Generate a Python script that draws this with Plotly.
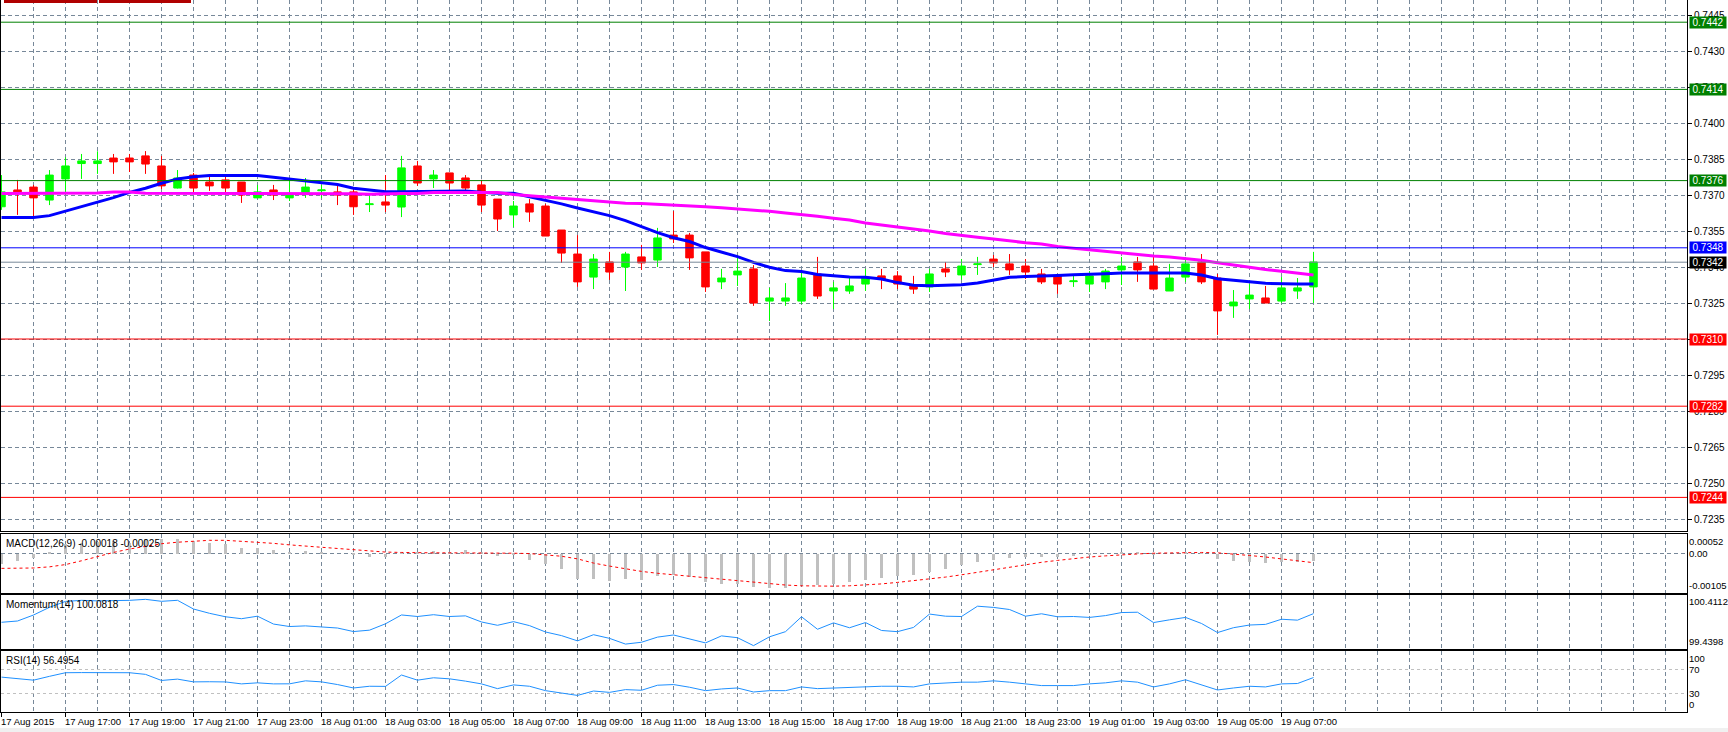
import plotly.graph_objects as go

# ---------------- data ----------------
bar_index = list(range(83))

open_ = [0.73651, 0.73721, 0.73733, 0.73679, 0.73767, 0.73831, 0.73831, 0.73854, 0.73854, 0.73863,
         0.73821, 0.73729, 0.73783, 0.73754, 0.73763, 0.73754, 0.73688, 0.73721, 0.73688, 0.73708,
         0.73718, 0.73713, 0.73713, 0.73660, 0.73671, 0.73650, 0.73821, 0.73767, 0.73792, 0.73771,
         0.73742, 0.73683, 0.73617, 0.73663, 0.73654, 0.73554, 0.73454, 0.73358, 0.73421, 0.73400,
         0.73442, 0.73429, 0.73533, 0.73533, 0.73463, 0.73338, 0.73367, 0.73392, 0.73258, 0.73258,
         0.73258, 0.73371, 0.73300, 0.73300, 0.73329, 0.73363, 0.73363, 0.73325, 0.73317, 0.73392,
         0.73367, 0.73410, 0.73433, 0.73413, 0.73404, 0.73371, 0.73363, 0.73339, 0.73329, 0.73338,
         0.73388, 0.73421, 0.73404, 0.73300, 0.73358, 0.73421, 0.73354, 0.73238, 0.73267, 0.73271,
         0.73258, 0.73300, 0.73317]
high = [0.73783, 0.73763, 0.73742, 0.73804, 0.73857, 0.73871, 0.73882, 0.73871, 0.73871, 0.73883,
        0.73863, 0.73804, 0.73792, 0.73775, 0.73775, 0.73754, 0.73742, 0.73742, 0.73763, 0.73771,
        0.73742, 0.73738, 0.73733, 0.73704, 0.73783, 0.73863, 0.73842, 0.73804, 0.73792, 0.73783,
        0.73763, 0.73683, 0.73675, 0.73683, 0.73663, 0.73554, 0.73533, 0.73454, 0.73463, 0.73463,
        0.73492, 0.73563, 0.73633, 0.73542, 0.73463, 0.73392, 0.73442, 0.73408, 0.73313, 0.73333,
        0.73375, 0.73442, 0.73338, 0.73354, 0.73392, 0.73392, 0.73383, 0.73363, 0.73392, 0.73421,
        0.73433, 0.73442, 0.73450, 0.73454, 0.73433, 0.73392, 0.73371, 0.73363, 0.73383, 0.73392,
        0.73442, 0.73442, 0.73442, 0.73413, 0.73442, 0.73454, 0.73371, 0.73304, 0.73329, 0.73321,
        0.73358, 0.73354, 0.73463]
low = [0.73638, 0.73617, 0.73608, 0.73658, 0.73700, 0.73767, 0.73788, 0.73788, 0.73796, 0.73788,
       0.73725, 0.73727, 0.73708, 0.73717, 0.73700, 0.73667, 0.73688, 0.73679, 0.73675, 0.73688,
       0.73688, 0.73658, 0.73617, 0.73629, 0.73629, 0.73608, 0.73738, 0.73729, 0.73717, 0.73717,
       0.73629, 0.73550, 0.73567, 0.73588, 0.73529, 0.73417, 0.73317, 0.73308, 0.73346, 0.73300,
       0.73388, 0.73400, 0.73500, 0.73388, 0.73296, 0.73308, 0.73321, 0.73238, 0.73175, 0.73238,
       0.73246, 0.73267, 0.73225, 0.73288, 0.73300, 0.73308, 0.73308, 0.73288, 0.73296, 0.73358,
       0.73346, 0.73367, 0.73400, 0.73367, 0.73350, 0.73329, 0.73288, 0.73317, 0.73296, 0.73308,
       0.73325, 0.73338, 0.73308, 0.73300, 0.73338, 0.73329, 0.73117, 0.73188, 0.73225, 0.73250,
       0.73250, 0.73267, 0.73250]
close = [0.73713, 0.73710, 0.73688, 0.73783, 0.73821, 0.73842, 0.73842, 0.73838, 0.73838, 0.73829,
         0.73738, 0.73771, 0.73729, 0.73738, 0.73729, 0.73700, 0.73713, 0.73700, 0.73704, 0.73733,
         0.73721, 0.73700, 0.73651, 0.73663, 0.73658, 0.73813, 0.73750, 0.73783, 0.73750, 0.73729,
         0.73658, 0.73600, 0.73654, 0.73629, 0.73529, 0.73458, 0.73338, 0.73433, 0.73379, 0.73454,
         0.73417, 0.73521, 0.73517, 0.73438, 0.73317, 0.73354, 0.73383, 0.73250, 0.73271, 0.73271,
         0.73354, 0.73279, 0.73313, 0.73321, 0.73354, 0.73350, 0.73329, 0.73308, 0.73371, 0.73379,
         0.73404, 0.73413, 0.73417, 0.73388, 0.73379, 0.73338, 0.73329, 0.73342, 0.73363, 0.73383,
         0.73404, 0.73388, 0.73308, 0.73354, 0.73413, 0.73338, 0.73217, 0.73254, 0.73283, 0.73250,
         0.73313, 0.73313, 0.73421]

ma_fast = [0.73606, 0.73606, 0.73606, 0.73614, 0.73633, 0.73649, 0.73668, 0.73689, 0.73711, 0.73728,
           0.73749, 0.73767, 0.73776, 0.73781, 0.73781, 0.73781, 0.73781, 0.73774, 0.73767, 0.73758,
           0.73751, 0.73744, 0.73728, 0.73721, 0.73714, 0.73714, 0.73714, 0.73715, 0.73717, 0.73717,
           0.73711, 0.73707, 0.73707, 0.73693, 0.73679, 0.73663, 0.73646, 0.73631, 0.73614, 0.73593,
           0.73568, 0.73543, 0.73522, 0.73506, 0.73481, 0.73463, 0.73443, 0.73419, 0.73399, 0.73385,
           0.73381, 0.73369, 0.73364, 0.73358, 0.73357, 0.73350, 0.73335, 0.73324, 0.73322, 0.73325,
           0.73326, 0.73333, 0.73346, 0.73357, 0.73360, 0.73361, 0.73365, 0.73368, 0.73369, 0.73372,
           0.73375, 0.73376, 0.73376, 0.73375, 0.73375, 0.73367, 0.73351, 0.73346, 0.73339, 0.73332,
           0.73329, 0.73329, 0.73329]
ma_slow = [0.73706, 0.73706, 0.73706, 0.73706, 0.73706, 0.73708, 0.73708, 0.73712, 0.73712, 0.73707,
           0.73707, 0.73707, 0.73707, 0.73707, 0.73707, 0.73707, 0.73707, 0.73707, 0.73707, 0.73707,
           0.73707, 0.73705, 0.73705, 0.73703, 0.73706, 0.73706, 0.73706, 0.73710, 0.73710, 0.73710,
           0.73710, 0.73710, 0.73702, 0.73697, 0.73690, 0.73685, 0.73680, 0.73676, 0.73672, 0.73666,
           0.73665, 0.73662, 0.73660, 0.73657, 0.73651, 0.73647, 0.73643, 0.73637, 0.73632, 0.73625,
           0.73619, 0.73611, 0.73603, 0.73596, 0.73583, 0.73575, 0.73568, 0.73560, 0.73550, 0.73540,
           0.73531, 0.73524, 0.73517, 0.73508, 0.73501, 0.73496, 0.73485, 0.73478, 0.73471, 0.73464,
           0.73457, 0.73451, 0.73446, 0.73442, 0.73436, 0.73428, 0.73418, 0.73408, 0.73399, 0.73390,
           0.73382, 0.73374, 0.73367]

macd_main = [-0.00028, -0.00019, -0.00010, 0.00005, 0.00025, 0.00029, 0.00031, 0.00033, 0.00029, 0.00038,
             0.00040, 0.00038, 0.00033, 0.00027, 0.00025, 0.00016, 0.00014, 0.00009, 0.00004, 0.00006,
             0.00003, 0.00000, -0.00002, -0.00009, -0.00008, 0.00003, 0.00004, 0.00007, 0.00004, 0.00009,
             0.00003, -0.00006, -0.00002, -0.00017, -0.00028, -0.00041, -0.00066, -0.00068, -0.00072, -0.00068,
             -0.00070, -0.00060, -0.00055, -0.00062, -0.00075, -0.00079, -0.00080, -0.00088, -0.00090, -0.00090,
             -0.00083, -0.00083, -0.00079, -0.00075, -0.00069, -0.00064, -0.00060, -0.00057, -0.00048, -0.00040,
             -0.00031, -0.00023, -0.00016, -0.00012, -0.00009, -0.00009, -0.00008, -0.00006, -0.00003, 0.00000,
             0.00004, 0.00005, -0.00001, 0.00000, 0.00005, 0.00001, -0.00014, -0.00020, -0.00022, -0.00025,
             -0.00022, -0.00021, -0.00018]
macd_signal = [-0.00040, -0.00040, -0.00039, -0.00036, -0.00030, -0.00020, -0.00008, 0.00002, 0.00011, 0.00018,
               0.00025, 0.00029, 0.00032, 0.00034, 0.00034, 0.00032, 0.00029, 0.00026, 0.00022, 0.00019,
               0.00016, 0.00012, 0.00009, 0.00006, 0.00003, 0.00002, 0.00001, 0.00001, 0.00001, 0.00001,
               0.00001, 0.00001, 0.00000, -0.00001, -0.00004, -0.00008, -0.00015, -0.00026, -0.00034, -0.00041,
               -0.00048, -0.00053, -0.00057, -0.00061, -0.00065, -0.00069, -0.00073, -0.00077, -0.00081, -0.00084,
               -0.00086, -0.00087, -0.00087, -0.00086, -0.00084, -0.00081, -0.00077, -0.00073, -0.00068, -0.00063,
               -0.00057, -0.00050, -0.00043, -0.00036, -0.00030, -0.00024, -0.00019, -0.00014, -0.00010, -0.00007,
               -0.00004, -0.00002, 0.00000, 0.00001, 0.00002, 0.00002, 0.00001, -0.00002, -0.00006, -0.00010,
               -0.00015, -0.00020, -0.00025]

momentum = [99.920, 99.944, 100.056, 100.200, 100.310, 100.330, 100.320, 100.320, 100.330, 100.349,
            100.312, 100.331, 100.168, 100.088, 100.023, 99.987, 100.034, 99.887, 99.841, 99.853,
            99.836, 99.813, 99.747, 99.773, 99.892, 100.057, 100.028, 100.062, 100.028, 100.040,
            99.926, 99.864, 99.932, 99.858, 99.739, 99.671, 99.573, 99.688, 99.620, 99.513,
            99.547, 99.643, 99.683, 99.603, 99.535, 99.666, 99.632, 99.484, 99.649, 99.745,
            100.023, 99.790, 99.909, 99.818, 99.915, 99.767, 99.745, 99.824, 100.074, 100.034,
            100.028, 100.221, 100.198, 100.159, 100.034, 100.079, 100.023, 100.028, 100.011, 100.045,
            100.102, 100.108, 99.915, 99.966, 100.011, 99.898, 99.728, 99.819, 99.869, 99.881,
            99.977, 99.960, 100.082]

rsi = [57.2, 55.0, 52.2, 58.5, 64.4, 64.6, 64.4, 64.3, 64.4, 61.7,
       51.7, 53.9, 49.4, 49.6, 49.3, 46.1, 47.8, 46.1, 46.2, 51.1,
       49.4, 45.0, 39.4, 42.2, 42.0, 60.6, 52.2, 56.1, 54.4, 50.6,
       46.1, 38.3, 44.4, 42.2, 35.0, 31.1, 27.2, 34.4, 32.2, 36.7,
       35.6, 43.9, 45.0, 40.6, 35.0, 37.8, 39.4, 32.8, 35.0, 35.0,
       41.1, 38.3, 39.4, 40.6, 42.2, 42.2, 42.2, 41.1, 46.1, 47.8,
       48.9, 48.9, 51.1, 48.9, 46.1, 43.3, 43.3, 43.3, 46.1, 47.8,
       51.1, 48.9, 41.1, 46.1, 52.8, 45.0, 36.1, 39.4, 42.2, 41.1,
       46.1, 46.7, 56.5]

levels_green = [0.7442, 0.7414, 0.7376]
levels_blue = [0.7348]
levels_price = [0.7342]
levels_red = [0.7310, 0.7282, 0.7244]

price_ticks = [0.7445, 0.7430, 0.7415, 0.7400, 0.7385, 0.7370, 0.7355, 0.7340,
               0.7325, 0.7310, 0.7295, 0.7280, 0.7265, 0.7250, 0.7235]

time_label_idx = [0, 4, 8, 12, 16, 20, 24, 28, 32, 36, 40, 44, 48, 52, 56, 60, 64, 68, 72, 76, 80]
time_labels = ["17 Aug 2015", "17 Aug 17:00", "17 Aug 19:00", "17 Aug 21:00", "17 Aug 23:00",
               "18 Aug 01:00", "18 Aug 03:00", "18 Aug 05:00", "18 Aug 07:00", "18 Aug 09:00",
               "18 Aug 11:00", "18 Aug 13:00", "18 Aug 15:00", "18 Aug 17:00", "18 Aug 19:00",
               "18 Aug 21:00", "18 Aug 23:00", "19 Aug 01:00", "19 Aug 03:00", "19 Aug 05:00",
               "19 Aug 07:00"]

macd_title = "MACD(12,26,9) -0.00018 -0.00025"
mom_title = "Momentum(14) 100.0818"
rsi_title = "RSI(14) 56.4954"

# ---------------- layout geometry ----------------
W, H = 1728, 732
ML, MR, MT, MB = 1, 41, 0, 20
PH = H - MT - MB
PW = W - ML - MR
BAR_PX = 16.0
x0 = -0.5 / BAR_PX
x_range = [x0, x0 + PW / BAR_PX]


def dom(top_px, bot_px):
    return [1 - bot_px / PH, 1 - top_px / PH]


FONT = "Liberation Sans, Arial, sans-serif"
FS = 10
FS_SMALL = 9.5
GRID = "#778899"
GDASH = "4px,3px"

fig = go.Figure()

fig.add_trace(go.Scatter(x=bar_index, y=ma_fast, mode="lines", line=dict(color="#0000FF", width=3),
                         xaxis="x", yaxis="y", hoverinfo="skip"))
fig.add_trace(go.Scatter(x=bar_index, y=ma_slow, mode="lines", line=dict(color="#FF00FF", width=3),
                         xaxis="x", yaxis="y", hoverinfo="skip"))
fig.add_trace(go.Candlestick(x=bar_index, open=open_, high=high, low=low, close=close,
                             increasing=dict(line=dict(color="#00FF00", width=1), fillcolor="#00FF00"),
                             decreasing=dict(line=dict(color="#FF0000", width=1), fillcolor="#FF0000"),
                             whiskerwidth=0, xaxis="x", yaxis="y", hoverinfo="skip"))
fig.add_trace(go.Bar(x=bar_index, y=macd_main, marker=dict(color="#C0C0C0", line=dict(width=0)),
                     width=0.13, xaxis="x2", yaxis="y2", hoverinfo="skip"))
fig.add_trace(go.Scatter(x=bar_index, y=macd_signal, mode="lines",
                         line=dict(color="#FF0000", width=1, dash="dot"),
                         xaxis="x2", yaxis="y2", hoverinfo="skip"))
fig.add_trace(go.Scatter(x=bar_index, y=momentum, mode="lines", line=dict(color="#1E90FF", width=1),
                         xaxis="x3", yaxis="y3", hoverinfo="skip"))
fig.add_trace(go.Scatter(x=bar_index, y=rsi, mode="lines", line=dict(color="#1E90FF", width=1),
                         xaxis="x4", yaxis="y4", hoverinfo="skip"))

xcommon = dict(range=x_range, showgrid=True, gridcolor=GRID, griddash=GDASH, gridwidth=1,
               tickmode="linear", tick0=0, dtick=2, showticklabels=False, ticks="",
               showline=True, mirror=True, linecolor="black", linewidth=1, zeroline=False,
               fixedrange=True)
ycommon = dict(side="right", showline=True, mirror=True, linecolor="black", linewidth=1,
               zeroline=False, fixedrange=True)

macd_range = [-0.00105, 0.00052]
mom_range = [99.421, 100.430]

fig.update_layout(
    width=W, height=H, margin=dict(l=ML, r=MR, t=MT, b=MB),
    paper_bgcolor="white", plot_bgcolor="white", showlegend=False,
    boxgap=0.33, bargap=0,
    font=dict(family=FONT, size=FS, color="black"),
    xaxis=dict(xcommon, anchor="y", domain=[0, 1], rangeslider=dict(visible=False)),
    xaxis2=dict(xcommon, anchor="y2", domain=[0, 1], matches="x"),
    xaxis3=dict(xcommon, anchor="y3", domain=[0, 1], matches="x"),
    xaxis4=dict(xcommon, anchor="y4", domain=[0, 1], matches="x",
                tickmode="array", tickvals=time_label_idx, ticks="outside", ticklen=4,
                tickcolor="black",
                minor=dict(tickmode="linear", tick0=0, dtick=2, showgrid=True, gridcolor=GRID,
                           griddash=GDASH, gridwidth=1, ticks="")),
    yaxis=dict(ycommon, anchor="x", domain=dom(0, 531), range=[0.72300, 0.745125],
               tickmode="array", tickvals=price_ticks, ticktext=["%.4f" % v for v in price_ticks],
               ticks="outside", ticklen=4, tickcolor="black",
               tickfont=dict(family=FONT, size=FS, color="black"),
               showgrid=True, gridcolor=GRID, griddash=GDASH, gridwidth=1),
    yaxis2=dict(ycommon, anchor="x2", domain=dom(533.5, 593), range=macd_range,
                tickmode="array", tickvals=[0], showticklabels=False, ticks="",
                showgrid=True, gridcolor=GRID, griddash=GDASH),
    yaxis3=dict(ycommon, anchor="x3", domain=dom(595, 649), range=mom_range,
                showticklabels=False, ticks="", showgrid=False),
    yaxis4=dict(ycommon, anchor="x4", domain=dom(651, 712), range=[0, 100],
                tickmode="array", tickvals=[30, 70], showticklabels=False, ticks="",
                showgrid=True, gridcolor="#C0C0C0", griddash="3px,3px"),
)

shapes = []
annotations = []


def level(values, line_color, box_color):
    for v in values:
        shapes.append(dict(type="line", xref="paper", x0=0, x1=1, yref="y", y0=v, y1=v,
                           line=dict(color=line_color, width=1), layer="above"))
        annotations.append(dict(xref="paper", x=1, xanchor="left", xshift=2, yref="y", y=v,
                                yanchor="middle", text="%.4f" % v, showarrow=False,
                                bgcolor=box_color, width=36, height=11, borderpad=0,
                                font=dict(family=FONT, size=FS, color="white")))


level(levels_green, "#008000", "#008000")
level(levels_red, "#FF0000", "#FF0000")
level(levels_blue, "#0000FF", "#0000FF")
level(levels_price, "#778899", "#000000")

# one-click panel remnants at the top-left
for a, b in [(4, 97), (99, 191)]:
    shapes.append(dict(type="rect", xref="paper", yref="paper",
                       x0=(a - ML) / PW, x1=(b - ML) / PW, y0=1 - 3 / PH, y1=1,
                       fillcolor="#B00000", line=dict(width=0), layer="above"))
# grey strip at the very bottom
shapes.append(dict(type="rect", xref="paper", yref="paper", x0=-0.01, x1=1.05,
                   y0=-(H - MT - PH) / PH, y1=-(728 - PH) / PH,
                   fillcolor="#F0F0F0", line=dict(width=0)))

# indicator titles
for title, top in [(macd_title, dom(533.5, 593)[1]), (mom_title, dom(595, 649)[1]),
                   (rsi_title, dom(651, 712)[1])]:
    annotations.append(dict(xref="paper", x=0, xanchor="left", xshift=3, yref="paper", y=top,
                            yanchor="top", yshift=-2, text=title, showarrow=False,
                            font=dict(family=FONT, size=FS, color="black")))


def side_label(text, yref, y, anchor, shift=0):
    annotations.append(dict(xref="paper", x=1, xanchor="left", xshift=1, yref=yref, y=y,
                            yanchor=anchor, yshift=shift, text=text, showarrow=False,
                            borderpad=0,
                            font=dict(family=FONT, size=FS_SMALL, color="black")))


side_label("0.00052", "y2", macd_range[1], "top", -1)
side_label("0.00", "y2", 0, "middle")
side_label("-0.00105", "y2", macd_range[0], "bottom", 1)
side_label("100.4112", "y3", mom_range[1], "top")
side_label("99.4398", "y3", mom_range[0], "bottom", 1)
side_label("100", "y4", 100, "top", -1)
side_label("70", "y4", 70, "middle")
side_label("30", "y4", 30, "middle")
side_label("0", "y4", 0, "bottom", 1)

# time labels (left-aligned at their bar, MT4 style)
for i, t in zip(time_label_idx, time_labels):
    annotations.append(dict(xref="x4", x=i, xanchor="left", xshift=-2, yref="paper", y=0,
                            yanchor="top", yshift=-3, text=t, showarrow=False, borderpad=0,
                            font=dict(family=FONT, size=FS_SMALL, color="black")))

fig.update_layout(shapes=shapes, annotations=annotations)

fig.write_html("out.html")
